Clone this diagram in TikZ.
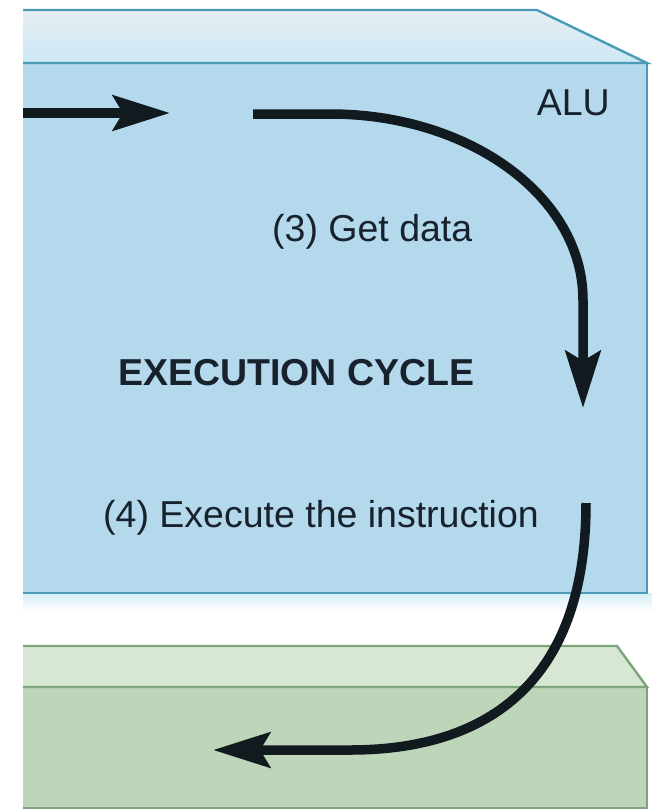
\documentclass[tikz,border=0pt]{standalone}
\usepackage{fontspec}
\setmainfont{Liberation Sans}
\usetikzlibrary{arrows.meta}
\definecolor{bluefront}{HTML}{B4D9EC}
\definecolor{bluetopA}{HTML}{E6EFF3}
\definecolor{bluetopB}{HTML}{CBE7F4}
\definecolor{blueedge}{HTML}{4A9AB8}
\definecolor{blueglow}{HTML}{D6EFF8}
\definecolor{greenfront}{HTML}{BDD6B9}
\definecolor{greentop}{HTML}{D7E7D4}
\definecolor{greenedge}{HTML}{7FA37B}
\definecolor{inktext}{HTML}{17222D}
\definecolor{inkarrow}{HTML}{111A1F}
\tikzset{
  lbl/.style={text=inktext, inner sep=0pt, font=\fontsize{37.5}{40}\selectfont},
  flow/.style={draw=inkarrow, line width=9.5pt,
    -{Stealth[length=57pt, width=35pt, inset=10pt]}},
  bedge/.style={draw=blueedge, line width=2.4pt, line join=miter},
  gedge/.style={draw=greenedge, line width=2.4pt, line join=miter}
}
\begin{document}
\begin{tikzpicture}[x=1pt, y=-1pt]
\useasboundingbox (0,0) rectangle (659,812);
\fill[white] (0,0) rectangle (659,812);
% ---- blue ALU block ----
\shade[top color=blueglow, bottom color=white] (23,593) rectangle (652,612);
\shade[top color=bluetopA, bottom color=bluetopB]
  (23,10) -- (537,10) -- (647,63) -- (23,63) -- cycle;
\fill[bluefront] (23,63) rectangle (647,593);
\draw[bedge] (23,10) -- (537,10) -- (647,63) -- (23,63);
\draw[bedge] (647,63) -- (647,593) -- (23,593);
% ---- green block ----
\fill[greentop] (23,646) -- (617,646) -- (647,687) -- (23,687) -- cycle;
\fill[greenfront] (23,687) rectangle (647,808);
\draw[gedge] (23,646) -- (617,646) -- (647,687) -- (23,687);
\draw[gedge] (647,687) -- (647,808) -- (23,808);
% ---- labels ----
\node[lbl, anchor=base east] (alu) at (610,115) {ALU};
\node[lbl, anchor=base west] (get) at (272,241) {(3) Get data};
\node[lbl, anchor=base west, font=\fontsize{37.5}{40}\selectfont\bfseries] (cyc) at (118,385) {EXECUTION CYCLE};
\node[lbl, anchor=base west] (exe) at (103,527) {(4) Execute the instruction};
% ---- arrows ----
\coordinate (a1s) at (23,113);
\coordinate (a1e) at (170,113);
\coordinate (a2s) at (253,114);
\coordinate (a2m) at (330,114);
\coordinate (a2v) at (583,300);
\coordinate (a2e) at (583,408);
\coordinate (a3s) at (586,503);
\coordinate (a3m) at (350,750);
\coordinate (a3e) at (213,750);
\draw[flow] (a1s) -- (a1e);
\draw[flow] (a2s) -- (a2m) .. controls (470,114) and (583,197) .. (a2v) -- (a2e);
\draw[flow] (a3s) .. controls (586,680) and (490,750) .. (a3m) -- (a3e);
\end{tikzpicture}
\end{document}
